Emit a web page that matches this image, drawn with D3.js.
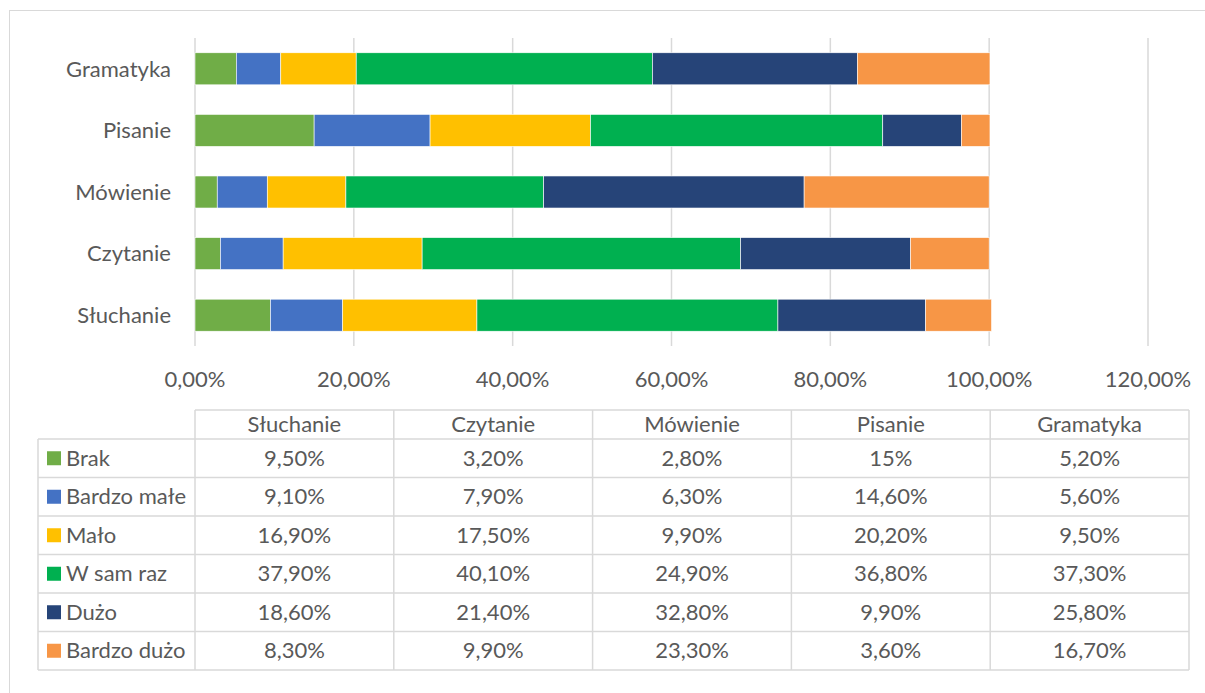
<!DOCTYPE html>
<html>
<head>
<meta charset="utf-8">
<script src="https://cdn.jsdelivr.net/npm/d3@7"></script>
<style>
  body { margin: 0; background: #fff; }
  text { font-family: Lato, "Open Sans", sans-serif; fill: #595959; }
</style>
</head>
<body>
<div class="container"></div>
<script>
const skills = ['Słuchanie', 'Czytanie', 'Mówienie', 'Pisanie', 'Gramatyka'];
const levels = ['Brak', 'Bardzo małe', 'Mało', 'W sam raz', 'Dużo', 'Bardzo dużo'];
const colors = ['#70ad47', '#4472c4', '#ffc000', '#00b050', '#264478', '#f79646'];

// wartości w procentach, po kolei dla skills
const brak = [9.5, 3.2, 2.8, 15, 5.2];
const bardzoMale = [9.1, 7.9, 6.3, 14.6, 5.6];
const malo = [16.9, 17.5, 9.9, 20.2, 9.5];
const wSamRaz = [37.9, 40.1, 24.9, 36.8, 37.3];
const duzo = [18.6, 21.4, 32.8, 9.9, 25.8];
const bardzoDuzo = [8.3, 9.9, 23.3, 3.6, 16.7];

// etykiety tabeli tak, jak są w oryginale
const cellLabels = [
  ['9,50%', '3,20%', '2,80%', '15%', '5,20%'],
  ['9,10%', '7,90%', '6,30%', '14,60%', '5,60%'],
  ['16,90%', '17,50%', '9,90%', '20,20%', '9,50%'],
  ['37,90%', '40,10%', '24,90%', '36,80%', '37,30%'],
  ['18,60%', '21,40%', '32,80%', '9,90%', '25,80%'],
  ['8,30%', '9,90%', '23,30%', '3,60%', '16,70%']
];
const ticks = [0, 20, 40, 60, 80, 100, 120];

const series = [brak, bardzoMale, malo, wSamRaz, duzo, bardzoDuzo];
const rows = skills.map((s, i) => {
  const r = { skill: s };
  levels.forEach((l, j) => r[l] = series[j][i]);
  return r;
});

const w = 1205, h = 693;
const plot = { left: 195, right: 1148, top: 38, bottom: 346 };
const fs = 22;

const svg = d3.select('.container').append('svg')
  .attr('width', w)
  .attr('height', h);

svg.append('rect')
  .attr('x', 9.5).attr('y', 10.5)
  .attr('width', 1220).attr('height', 700)
  .attr('fill', 'none')
  .attr('stroke', '#d9d9d9');

const x = d3.scaleLinear().domain([0, 120]).range([plot.left, plot.right]);
const y = d3.scaleBand()
  .domain(skills.slice().reverse())
  .range([plot.top, plot.bottom])
  .paddingInner(0.48)
  .paddingOuter(0.24);

// siatka
svg.append('g').selectAll('line')
  .data(ticks)
  .join('line')
  .attr('x1', d => x(d)).attr('x2', d => x(d))
  .attr('y1', plot.top).attr('y2', plot.bottom)
  .attr('stroke', '#d9d9d9')
  .attr('stroke-width', 1.5);

const stack = d3.stack().keys(levels)(rows);
const color = d3.scaleOrdinal(levels, colors);

svg.append('g').selectAll('g')
  .data(stack)
  .join('g')
  .attr('fill', d => color(d.key))
  .selectAll('rect')
  .data(d => d)
  .join('rect')
  .attr('x', d => x(d[0]))
  .attr('width', d => x(d[1]) - x(d[0]))
  .attr('y', d => y(d.data.skill))
  .attr('height', y.bandwidth())
  .attr('stroke', '#fff')
  .attr('stroke-width', 0.6);

// oś Y
svg.append('g').selectAll('text')
  .data(skills)
  .join('text')
  .attr('x', 171)
  .attr('y', d => y(d) + y.bandwidth() / 2)
  .attr('dy', '0.35em')
  .attr('text-anchor', 'end')
  .style('font-size', fs + 'px')
  .text(d => d);

// oś X
const fmt = v => d3.format('.2f')(v).replace('.', ',') + '%';
svg.append('g').selectAll('text')
  .data(ticks)
  .join('text')
  .attr('x', d => x(d))
  .attr('y', 379)
  .attr('dy', '0.35em')
  .attr('text-anchor', 'middle')
  .style('font-size', fs + 'px')
  .text(fmt);

// tabela danych
const tbl = { left: 38, first: 195, right: 1189, top: 410, head: 439, rowH: 38.5 };
const col = d3.scaleBand().domain(skills).range([tbl.first, tbl.right]);
const rowY = d3.scaleBand().domain(levels).range([tbl.head, tbl.head + tbl.rowH * levels.length]);
const tg = svg.append('g');
const gridColor = '#d9d9d9';

// linie poziome
tg.append('line')
  .attr('x1', tbl.first).attr('x2', tbl.right)
  .attr('y1', tbl.top).attr('y2', tbl.top)
  .attr('stroke', gridColor).attr('stroke-width', 1.5);
tg.selectAll('.hl')
  .data(d3.range(levels.length + 1))
  .join('line')
  .attr('class', 'hl')
  .attr('x1', tbl.left).attr('x2', tbl.right)
  .attr('y1', i => tbl.head + i * tbl.rowH)
  .attr('y2', i => tbl.head + i * tbl.rowH)
  .attr('stroke', gridColor).attr('stroke-width', 1.5);

// linie pionowe
const bottomY = tbl.head + tbl.rowH * levels.length;
tg.append('line')
  .attr('x1', tbl.left).attr('x2', tbl.left)
  .attr('y1', tbl.head).attr('y2', bottomY)
  .attr('stroke', gridColor).attr('stroke-width', 1.5);
tg.selectAll('.vl')
  .data(skills.map(s => col(s)).concat([tbl.right]))
  .join('line')
  .attr('class', 'vl')
  .attr('x1', d => d).attr('x2', d => d)
  .attr('y1', tbl.top).attr('y2', bottomY)
  .attr('stroke', gridColor).attr('stroke-width', 1.5);

// nagłówki
tg.selectAll('.head')
  .data(skills)
  .join('text')
  .attr('class', 'head')
  .attr('x', d => col(d) + col.bandwidth() / 2)
  .attr('y', (tbl.top + tbl.head) / 2)
  .attr('dy', '0.35em')
  .attr('text-anchor', 'middle')
  .style('font-size', fs + 'px')
  .text(d => d);

// legenda w tabeli
const leg = tg.selectAll('.leg')
  .data(levels)
  .join('g')
  .attr('class', 'leg')
  .attr('transform', d => `translate(0, ${rowY(d) + rowY.bandwidth() / 2})`);
leg.append('rect')
  .attr('x', 47).attr('y', -7)
  .attr('width', 14).attr('height', 14)
  .attr('fill', d => color(d));
leg.append('text')
  .attr('x', 66)
  .attr('dy', '0.35em')
  .style('font-size', fs + 'px')
  .text(d => d);

// wartości
levels.forEach((l, j) => {
  tg.append('g').selectAll('text')
    .data(skills)
    .join('text')
    .attr('x', d => col(d) + col.bandwidth() / 2)
    .attr('y', rowY(l) + rowY.bandwidth() / 2)
    .attr('dy', '0.35em')
    .attr('text-anchor', 'middle')
    .style('font-size', fs + 'px')
    .text((d, i) => cellLabels[j][i]);
});
</script>
</body>
</html>
